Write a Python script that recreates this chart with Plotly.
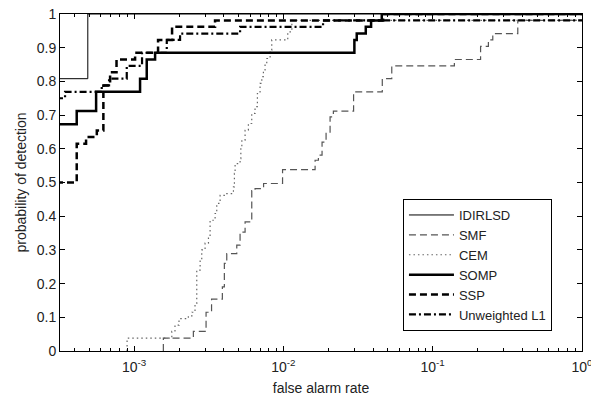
import plotly.graph_objects as go

# False alarm rate (x) and probability of detection (y) for each detector,
# given as step points: each y value holds from its x until the next x.
X_START = 3.0e-4

idirlsd_far = [X_START, 4.90e-4, 1.0]
idirlsd_pd = [0.808, 1.0, 1.0]

smf_far = [1.571e-3, 1.571e-3, 2.496e-3, 3.036e-3, 3.304e-3, 3.903e-3, 4.025e-3,
           4.177e-3, 4.874e-3, 5.129e-3, 5.541e-3, 6.142e-3, 6.462e-3, 7.369e-3,
           9.876e-3, 1.631e-2, 1.716e-2, 1.816e-2, 1.932e-2, 2.055e-2, 2.162e-2,
           2.953e-2, 4.597e-2, 5.321e-2, 0.1397, 0.2093, 0.2361, 0.2526, 0.3715, 1.0]
smf_pd = [0.0, 0.038, 0.058, 0.115, 0.154, 0.19, 0.26,
          0.289, 0.314, 0.353, 0.383, 0.476, 0.482, 0.497,
          0.538, 0.566, 0.581, 0.62, 0.646, 0.695, 0.712,
          0.769, 0.808, 0.846, 0.865, 0.904, 0.923, 0.942, 0.981, 0.981]

cem_far = [8.98e-4, 8.98e-4, 1.79e-3, 1.88e-3, 2.00e-3, 2.31e-3, 2.44e-3, 2.56e-3,
           2.63e-3, 2.77e-3, 2.84e-3, 2.99e-3, 3.15e-3, 3.23e-3, 3.49e-3, 3.58e-3,
           3.77e-3, 4.18e-3, 4.63e-3, 4.70e-3, 4.75e-3, 5.13e-3, 5.19e-3, 5.27e-3,
           5.54e-3, 5.83e-3, 6.14e-3, 6.46e-3, 6.70e-3, 6.98e-3, 7.17e-3, 7.35e-3,
           7.54e-3, 7.74e-3, 8.15e-3, 8.36e-3, 1.07e-2, 1.14e-2, 1.0]
cem_pd = [0.0, 0.038, 0.058, 0.077, 0.096, 0.104, 0.115, 0.141,
          0.24, 0.27, 0.30, 0.32, 0.34, 0.388, 0.408, 0.438,
          0.462, 0.467, 0.487, 0.527, 0.556, 0.571, 0.606, 0.626,
          0.655, 0.675, 0.705, 0.725, 0.764, 0.794, 0.814, 0.834,
          0.853, 0.868, 0.893, 0.923, 0.947, 0.981, 0.981]

somp_far = [X_START, 4.13e-4, 5.57e-4, 1.097e-3, 1.216e-3, 1.383e-3, 2.989e-2,
            3.10e-2, 3.563e-2, 3.867e-2, 4.56e-2, 1.0]
somp_pd = [0.673, 0.712, 0.769, 0.808, 0.865, 0.885, 0.923,
           0.942, 0.962, 0.981, 1.0, 1.0]

ssp_far = [X_START, 4.13e-4, 4.77e-4, 5.63e-4, 6.23e-4, 6.91e-4, 7.63e-4,
           1.016e-3, 1.448e-3, 1.797e-3, 3.487e-3, 4.654e-2, 1.0]
ssp_pd = [0.5, 0.615, 0.635, 0.654, 0.788, 0.827, 0.865,
          0.885, 0.923, 0.962, 0.981, 1.0, 1.0]

l1_far = [X_START, 3.45e-4, 6.075e-4, 6.80e-4, 8.935e-4, 1.131e-3, 1.656e-3,
          2.033e-3, 5.129e-3, 1.844e-2, 1.0]
l1_pd = [0.75, 0.769, 0.788, 0.808, 0.846, 0.885, 0.923,
         0.942, 0.962, 0.981, 0.981]

x_tick_vals = [1e-3, 1e-2, 1e-1, 1.0]
x_tick_text = ["10<sup>-3</sup>", "10<sup>-2</sup>", "10<sup>-1</sup>", "10<sup>0</sup>"]
y_tick_vals = [0, 0.1, 0.2, 0.3, 0.4, 0.5, 0.6, 0.7, 0.8, 0.9, 1.0]
y_tick_text = ["0", "0.1", "0.2", "0.3", "0.4", "0.5", "0.6", "0.7", "0.8", "0.9", "1"]

series = [
    ("IDIRLSD", idirlsd_far, idirlsd_pd, dict(color="black", width=1, dash="solid")),
    ("SMF", smf_far, smf_pd, dict(color="#555555", width=1.2, dash="7px,4px")),
    ("CEM", cem_far, cem_pd, dict(color="#666666", width=1.2, dash="1.5px,3px")),
    ("SOMP", somp_far, somp_pd, dict(color="black", width=2.5, dash="solid")),
    ("SSP", ssp_far, ssp_pd, dict(color="black", width=2.5, dash="7px,4px")),
    ("Unweighted L1", l1_far, l1_pd, dict(color="black", width=2.2, dash="7px,3px,2px,3px")),
]

FONT = "Liberation Sans, Arial, sans-serif"
TEXT_COLOR = "#222222"

fig = go.Figure()
for name, xs, ys, line in series:
    fig.add_trace(go.Scatter(x=xs, y=ys, mode="lines", name=name,
                             line=dict(shape="hv", **line)))

axis_common = dict(
    showline=True, linecolor="black", linewidth=1, mirror="allticks",
    ticks="inside", ticklen=5, tickcolor="black", tickwidth=1,
    showgrid=False, zeroline=False, ticklabeloverflow="allow", automargin=False,
    tickfont=dict(family=FONT, size=14, color=TEXT_COLOR),
)

fig.update_xaxes(
    type="log", range=[-3.496, 0],
    tickvals=x_tick_vals, ticktext=x_tick_text, ticklabelstandoff=3,
    minor=dict(ticks="inside", ticklen=3, tickcolor="black", dtick="D1", showgrid=False),
    title=dict(text="false alarm rate", font=dict(family=FONT, size=14, color=TEXT_COLOR),
               standoff=9),
    **axis_common,
)
fig.update_yaxes(
    range=[0, 1], tickvals=y_tick_vals, ticktext=y_tick_text,
    title=dict(text="probability of detection", font=dict(family=FONT, size=14, color=TEXT_COLOR),
               standoff=6),
    **axis_common,
)

fig.update_layout(
    width=591, height=399,
    margin=dict(l=60, r=9, t=14, b=48),
    paper_bgcolor="white", plot_bgcolor="white",
    font=dict(family=FONT, size=14, color=TEXT_COLOR),
    legend=dict(
        x=0.657, y=0.451, xanchor="left", yanchor="top",
        bordercolor="black", borderwidth=1, bgcolor="white",
        font=dict(family=FONT, size=13, color=TEXT_COLOR),
        itemwidth=45, tracegroupgap=0,
    ),
    showlegend=True,
)

fig.write_html("out.html")
